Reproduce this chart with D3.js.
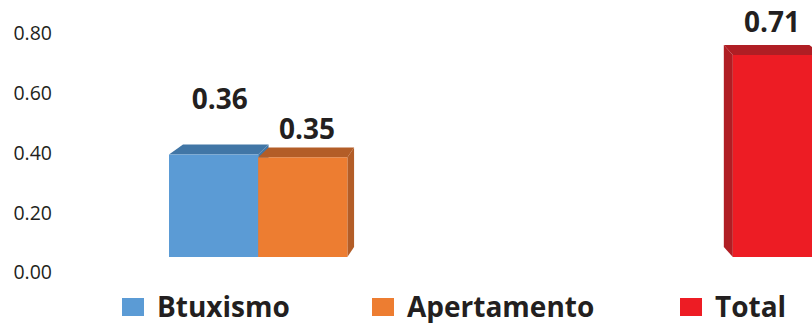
<!DOCTYPE html>
<html>
<head>
<meta charset="utf-8">
<script src="https://cdn.jsdelivr.net/npm/d3@7"></script>
<style>
  body { margin: 0; background: #fff; }
  text { font-family: "Open Sans", "Noto Sans", sans-serif; fill: #231f20; }
</style>
</head>
<body>
<div id="chart"></div>
<script>
// data
var categories = ["Grupo 1", "Grupo 2"];
var seriesNames = ["Btuxismo", "Apertamento", "Total"];
var btuxismo = [0.36, null];
var apertamento = [0.35, null];
var total = [null, 0.71];
var tickValues = [0, 0.2, 0.4, 0.6, 0.8];

// looks
var frontColors = ["#5b9bd5", "#ed7d31", "#ed1c24"];
var darkColors = ["#4176a6", "#b35d27", "#b01e24"];
var labelLift = [46, 18, 23];

var svgWidth = 812, svgHeight = 323;
var svg = d3.select("#chart").append("svg")
    .attr("width", svgWidth)
    .attr("height", svgHeight);

var allSeries = [btuxismo, apertamento, total];

//scales
var x0 = d3.scaleBand().domain(categories).range([169, 822]).paddingInner(0.306).paddingOuter(0);
var x1 = d3.scaleBand().domain(seriesNames).range([0, x0.bandwidth()]).padding(0);
var yAxisScale = d3.scaleLinear().domain([0, 0.8]).range([272.5, 33.5]);
var yBar = d3.scaleLinear().domain([0, 0.8]).range([257, 257 - 0.8 * 284.5]);

// y axis (back wall labels)
var yAxis = d3.axisLeft(yAxisScale)
    .tickValues(tickValues)
    .tickFormat(d3.format(".2f"))
    .tickSize(0)
    .tickPadding(0);
var gy = svg.append("g").attr("transform", "translate(52,0)").call(yAxis);
gy.select(".domain").remove();
gy.selectAll("text")
    .attr("font-size", "19.5px")
    .attr("font-family", "'Open Sans', sans-serif")
    .attr("fill", "#231f20");

// perspective depth offset
function depthX(x) { return 20.9 - 0.0408 * x; }
var depthY = -10;

var bars = [];
allSeries.forEach(function(vals, si) {
    vals.forEach(function(v, ci) {
        if (v === null) return;
        bars.push({series: si, name: seriesNames[si], cat: categories[ci], value: v});
    });
});

var barG = svg.append("g");
bars.forEach(function(d) {
    var xl = x0(d.cat) + x1(d.name);
    var xr = xl + x1.bandwidth();
    var yt = yBar(d.value);
    var yb = yBar(0);
    var dxl = depthX(xl), dxr = depthX(xr);
    var g = barG.append("g");
    // side face
    if (dxr > 0) {
        g.append("polygon")
            .attr("points", [[xr, yt], [xr + dxr, yt + depthY], [xr + dxr, yb + depthY], [xr, yb]].join(" "))
            .attr("fill", darkColors[d.series]);
    }
    if (dxl < 0) {
        g.append("polygon")
            .attr("points", [[xl, yt], [xl + dxl, yt + depthY], [xl + dxl, yb + depthY], [xl, yb]].join(" "))
            .attr("fill", darkColors[d.series]);
    }
    // top face
    g.append("polygon")
        .attr("points", [[xl, yt], [xl + dxl, yt + depthY], [xr + dxr, yt + depthY], [xr, yt]].join(" "))
        .attr("fill", darkColors[d.series]);
    // front face
    g.append("rect")
        .attr("x", xl)
        .attr("y", yt)
        .attr("width", xr - xl)
        .attr("height", yb - yt)
        .attr("fill", frontColors[d.series]);
    // value label
    g.append("text")
        .attr("x", (xl + xr) / 2 + (dxl + dxr) / 4)
        .attr("y", yt - labelLift[d.series])
        .attr("text-anchor", "middle")
        .attr("font-size", "28px")
        .attr("font-weight", "bold")
        .text(d3.format(".2f")(d.value));
});

// legend
var legendX = [122, 372, 680];
var legend = svg.append("g");
seriesNames.forEach(function(name, i) {
    legend.append("rect")
        .attr("x", legendX[i])
        .attr("y", 298)
        .attr("width", 22)
        .attr("height", 18)
        .attr("fill", frontColors[i]);
    legend.append("text")
        .attr("x", legendX[i] + 35)
        .attr("y", 316.5)
        .attr("font-size", "28px")
        .attr("font-weight", "bold")
        .text(name);
});
</script>
</body>
</html>
